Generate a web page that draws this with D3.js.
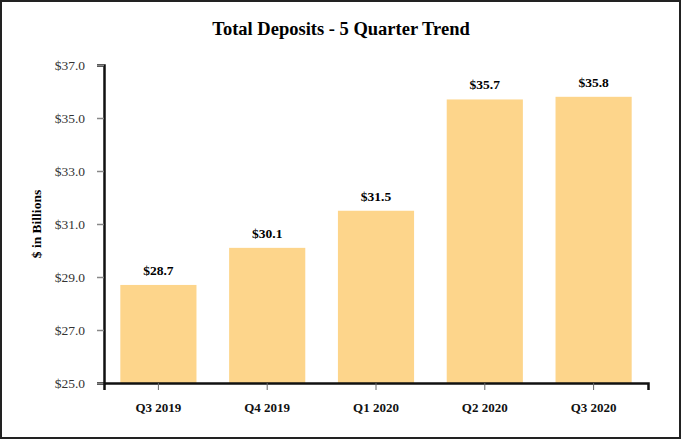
<!DOCTYPE html>
<html>
<head>
<meta charset="utf-8">
<script src="https://cdn.jsdelivr.net/npm/d3@7"></script>
<style>
  body { margin: 0; background: #fff; }
  svg text { font-family: "Liberation Serif", "Times New Roman", serif; }
</style>
</head>
<body>
<div id="chart"></div>
<script>
// donnees
var quarters = ["Q3 2019", "Q4 2019", "Q1 2020", "Q2 2020", "Q3 2020"];
var deposits = [28.7, 30.1, 31.5, 35.7, 35.8];
var yTicks = [25, 27, 29, 31, 33, 35, 37];

const width = 682, height = 440;
const margin = { top: 65, right: 34, bottom: 57, left: 104 };

var svg = d3.select("#chart")
  .append("svg")
  .attr("width", width)
  .attr("height", height);

// cadre
svg.append("rect")
  .attr("x", 1).attr("y", 1)
  .attr("width", width - 3).attr("height", height - 3)
  .style("fill", "none")
  .style("stroke", "#222")
  .style("stroke-width", 2);

svg.append("text")
  .attr("x", width / 2)
  .attr("y", 35)
  .attr("text-anchor", "middle")
  .style("font-size", "18.5px")
  .style("font-weight", "bold")
  .text("Total Deposits - 5 Quarter Trend");

var x = d3.scaleBand()
  .range([margin.left, width - margin.right])
  .domain(quarters)
  .paddingInner(0.3)
  .paddingOuter(0.15);

var y = d3.scaleLinear()
  .domain([25, 37])
  .range([height - margin.bottom, margin.top]);

// barres
svg.selectAll(".bar")
  .data(deposits)
  .join("rect")
  .attr("class", "bar")
  .attr("x", (d, i) => x(quarters[i]))
  .attr("y", d => y(d))
  .attr("width", x.bandwidth())
  .attr("height", d => y(25) - y(d))
  .style("fill", "#fdd58b");

svg.selectAll(".val")
  .data(deposits)
  .join("text")
  .attr("class", "val")
  .attr("x", (d, i) => x(quarters[i]) + x.bandwidth() / 2)
  .attr("y", d => y(d) - 10)
  .attr("text-anchor", "middle")
  .style("font-size", "13.5px")
  .style("font-weight", "bold")
  .text(d => "$" + d.toFixed(1));

// axe y
var yAxis = svg.append("g")
  .attr("transform", "translate(" + margin.left + ",0)")
  .call(d3.axisLeft(y).tickValues(yTicks).tickSize(7).tickPadding(12)
    .tickFormat(d => "$" + d3.format(".1f")(d)));
yAxis.select(".domain").style("stroke", "#111").style("stroke-width", 2.5);
yAxis.selectAll(".tick line").style("stroke", "#888").style("stroke-width", 1.5);
yAxis.selectAll(".tick text")
  .style("font-size", "13.5px")
  .style("fill", "#333");

// axe x
var xAxis = svg.append("g")
  .attr("transform", "translate(0," + (height - margin.bottom) + ")")
  .call(d3.axisBottom(x).tickSizeOuter(0).tickSize(7).tickPadding(13));
xAxis.select(".domain").style("stroke", "#111").style("stroke-width", 2.5);
xAxis.selectAll(".tick line").style("stroke", "#666");
xAxis.selectAll(".tick text")
  .style("font-size", "13px")
  .style("font-weight", "bold")
  .style("fill", "#111");

svg.append("text")
  .attr("transform", "translate(41," + ((margin.top + height - margin.bottom) / 2) + ") rotate(-90)")
  .attr("text-anchor", "middle")
  .style("font-size", "13.5px")
  .style("font-weight", "bold")
  .text("$ in Billions");
</script>
</body>
</html>
